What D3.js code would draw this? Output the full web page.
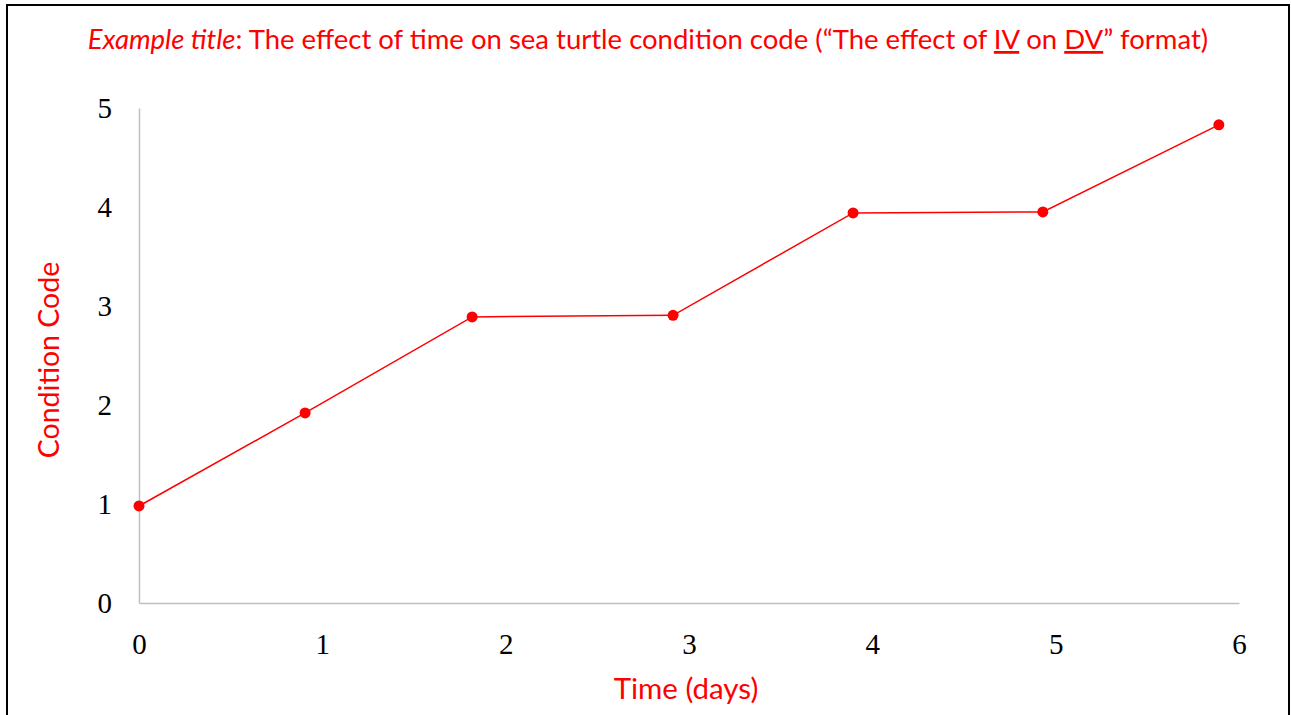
<!DOCTYPE html>
<html>
<head>
<meta charset="utf-8">
<script src="https://cdn.jsdelivr.net/npm/d3@7"></script>
<style>
  html, body { margin: 0; padding: 0; background: #fff; }
  svg { display: block; }
</style>
</head>
<body>
<script>
// ---- data ----
const days = [0, 0.906, 1.817, 2.913, 3.895, 4.93, 5.89];
const conditionCode = [0.98, 1.92, 2.89, 2.906, 3.94, 3.95, 4.83];
const xTicks = [0, 1, 2, 3, 4, 5, 6];
const yTicks = [0, 1, 2, 3, 4, 5];
const titleParts = [
  { text: "Example title", italic: true },
  { text: ": The effect of time on sea turtle condition code (\u201CThe effect of " },
  { text: "IV", underline: true },
  { text: " on " },
  { text: "DV", underline: true },
  { text: "\u201D format)" }
];
const xLabel = "Time (days)";
const yLabel = "Condition Code";

const W = 1291, H = 715;
const red = "#FF0000";
const svg = d3.select("body").append("svg").attr("width", W).attr("height", H);

svg.append("rect").attr("width", W).attr("height", H).attr("fill", "#fff");
// outer border
svg.append("rect").attr("x", 7).attr("y", 5).attr("width", 1282).attr("height", 730)
  .attr("fill", "none").attr("stroke", "#000").attr("stroke-width", 2);

const x = d3.scaleLinear().domain([0, 6]).range([139, 1239]);
const y = d3.scaleLinear().domain([0, 5]).range([603, 108]);

// title
const title = svg.append("text").attr("x", 648).attr("y", 49)
  .attr("text-anchor", "middle").attr("fill", red)
  .style("font-family", "Lato, 'Open Sans', sans-serif").style("font-size", "27.5px");
titleParts.forEach(p => {
  const t = title.append("tspan").text(p.text);
  if (p.italic) t.style("font-style", "italic");
  if (p.underline) t.style("text-decoration", "underline");
});

// axes
const xAxis = d3.axisBottom(x).tickValues(xTicks).tickSize(0).tickPadding(30).tickFormat(d3.format("d"));
const yAxis = d3.axisLeft(y).tickValues(yTicks).tickSize(0).tickPadding(27).tickFormat(d3.format("d"));

const gx = svg.append("g").attr("transform", `translate(0,${y(0)})`).call(xAxis);
const gy = svg.append("g").attr("transform", `translate(${x(0)},0)`).call(yAxis);
[gx, gy].forEach(g => {
  g.select(".domain").attr("stroke", "#BFBFBF").attr("stroke-width", 1.5);
  g.selectAll("text").attr("fill", "#000")
    .style("font-family", "'Liberation Serif', 'Times New Roman', serif").style("font-size", "29px");
});

// axis titles
svg.append("text").attr("x", 686).attr("y", 699).attr("text-anchor", "middle")
  .attr("fill", red).style("font-family", "Lato, 'Open Sans', sans-serif").style("font-size", "29.5px")
  .text(xLabel);
svg.append("text").attr("transform", "translate(59,360) rotate(-90)").attr("text-anchor", "middle")
  .attr("fill", red).style("font-family", "Lato, 'Open Sans', sans-serif").style("font-size", "28.5px")
  .text(yLabel);

// line + points
const pts = days.map((d, i) => [d, conditionCode[i]]);
svg.append("path").datum(pts)
  .attr("fill", "none").attr("stroke", red).attr("stroke-width", 1.5)
  .attr("d", d3.line().x(d => x(d[0])).y(d => y(d[1])));
svg.selectAll("circle.pt").data(pts).enter().append("circle")
  .attr("class", "pt").attr("cx", d => x(d[0])).attr("cy", d => y(d[1])).attr("r", 5.5)
  .attr("fill", red);
</script>
</body>
</html>
